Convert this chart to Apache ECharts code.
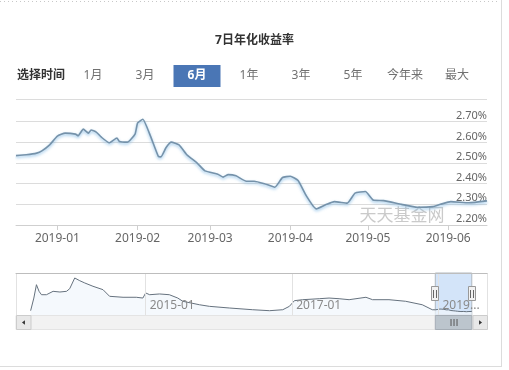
<!DOCTYPE html>
<html><head><meta charset="utf-8">
<script src="https://cdn.jsdelivr.net/npm/echarts@6/dist/echarts.min.js"></script>
<style>html,body{margin:0;padding:0;background:#fff}#c{width:509px;height:370px}</style>
</head><body><div id="c"></div>
<script>
// ---------- data ----------
const chartTitle = '7日年化收益率';
const rangeLabel = '选择时间';
const rangeButtons = ['1月', '3月', '6月', '1年', '3年', '5年', '今年来', '最大'];
const selectedRange = '6月';
const watermark = '天天基金网';

const mainRange = ['2018-12-16', '2019-06-16'];
const navRange = ['2013-03-25', '2019-08-31'];
const mainYMin = 2.2, mainYMax = 2.81, mainYStep = 0.1;
const navYMin = 1.85, navYMax = 7.42;

const windowDates = ['2018-12-16','2018-12-20','2018-12-24','2018-12-26','2018-12-29','2019-01-01','2019-01-04','2019-01-08','2019-01-09','2019-01-11','2019-01-13','2019-01-14','2019-01-16','2019-01-18','2019-01-21','2019-01-24','2019-01-25','2019-01-28','2019-01-31','2019-02-01','2019-02-03','2019-02-06','2019-02-09','2019-02-10','2019-02-12','2019-02-14','2019-02-17','2019-02-20','2019-02-24','2019-02-27','2019-03-04','2019-03-06','2019-03-08','2019-03-11','2019-03-15','2019-03-18','2019-03-22','2019-03-26','2019-03-29','2019-04-01','2019-04-04','2019-04-07','2019-04-11','2019-04-15','2019-04-18','2019-04-23','2019-04-26','2019-04-30','2019-05-03','2019-05-07','2019-05-14','2019-05-20','2019-05-26','2019-05-29','2019-06-02','2019-06-09','2019-06-16'];
const windowValues = [2.536,2.540,2.548,2.559,2.588,2.630,2.645,2.640,2.632,2.664,2.645,2.660,2.650,2.625,2.598,2.621,2.604,2.601,2.640,2.694,2.712,2.629,2.532,2.530,2.575,2.601,2.588,2.540,2.500,2.462,2.446,2.432,2.444,2.438,2.412,2.412,2.400,2.383,2.430,2.436,2.415,2.345,2.278,2.300,2.313,2.306,2.354,2.362,2.321,2.318,2.300,2.286,2.289,2.300,2.313,2.308,2.317];

const historyDates = ['2013-06-06','2013-06-22','2013-07-05','2013-07-18','2013-07-30','2013-08-24','2013-09-26','2013-10-30','2013-12-02','2013-12-18','2014-01-12','2014-02-06','2014-03-03','2014-04-13','2014-06-02','2014-07-05','2014-09-10','2014-11-15','2014-12-18','2015-01-01','2015-01-21','2015-03-11','2015-04-29','2015-06-10','2015-07-05','2015-09-26','2015-11-15','2016-02-22','2016-06-18','2016-09-10','2016-11-15','2016-12-18','2017-01-12','2017-02-22','2017-05-16','2017-07-04','2017-08-23','2017-10-12','2018-01-04','2018-02-06','2018-04-29','2018-07-21','2018-10-12','2018-12-01'];
const historyValues = [2.42,4.10,5.87,4.99,4.54,4.54,4.99,4.90,4.99,5.34,6.76,6.40,6.10,5.66,5.21,4.33,4.20,4.20,4.10,4.77,4.54,4.64,4.54,4.10,3.67,3.21,3.00,2.78,2.55,2.42,2.55,3.00,3.75,3.88,4.01,4.10,4.01,3.88,4.20,3.88,3.88,3.67,3.21,2.55];

// ---------- helpers ----------
const FONT = '"Noto Sans", "Noto Sans CJK SC", sans-serif';
const pad = n => (n < 10 ? '0' : '') + n;
function ts(s) { const p = s.split('-').map(Number); return new Date(p[0], p[1] - 1, p[2]).getTime(); }
function pairs(ds, vs) { return ds.map((d, i) => [ts(d), vs[i]]); }

const mainData = pairs(windowDates, windowValues);
const navData = pairs(historyDates.concat(windowDates), historyValues.concat(windowValues));

function monthLabel(v) {
  const d = new Date(v);
  return d.getDate() === 1 ? d.getFullYear() + '-' + pad(d.getMonth() + 1) : '';
}
function navLabel(v) {
  const d = new Date(v);
  if (d.getMonth() !== 0 || d.getDate() !== 1) return '';
  const s = d.getFullYear() + '-01';
  return v >= ts(mainRange[0]) ? s.slice(0, 4) + '...' : s;
}
function yLabel(v) { return v > mainYMax - 0.05 ? '' : v.toFixed(2) + '%'; }

const gridColor = '#dcdcdc';
const splitColors = [];
for (let v = mainYMin; v < mainYMax - 0.05; v += mainYStep) splitColors.push(gridColor);
splitColors.push('rgba(0,0,0,0)');
splitColors.push(gridColor);

const chart = echarts.init(document.getElementById('c'), null, { renderer: 'canvas' });

const option = {
  animation: false,
  backgroundColor: '#fff',
  textStyle: { fontFamily: FONT },
  title: {
    text: chartTitle, left: 'center', top: 30,
    textStyle: { fontSize: 12, fontWeight: 'bold', color: '#333', fontFamily: FONT }
  },
  grid: [
    { left: 16, right: 22, top: 99, bottom: 145 },
    { left: 16, right: 22, top: 273, height: 42 }
  ],
  xAxis: [
    {
      type: 'time', gridIndex: 0, min: ts(mainRange[0]), max: ts(mainRange[1]), splitNumber: 6,
      axisLine: { show: true, lineStyle: { color: '#cfcfcf' } },
      axisTick: { show: true, length: 5, lineStyle: { color: '#cfcfcf' } },
      splitLine: { show: false },
      axisLabel: { formatter: monthLabel, color: '#666', fontSize: 12, margin: 8, fontFamily: FONT, hideOverlap: false }
    },
    {
      type: 'time', gridIndex: 1, min: ts(navRange[0]), max: ts(navRange[1]), splitNumber: 3, z: 10,
      axisLine: { show: false }, axisTick: { show: false },
      splitLine: { show: true, lineStyle: { color: '#e2e2e2' } },
      axisLabel: {
        inside: true, align: 'left', verticalAlign: 'bottom', lineHeight: 12, margin: 3,
        padding: [0, 0, 0, 4], formatter: navLabel, color: '#8a8a8a', fontSize: 12, fontFamily: FONT
      }
    },
    {
      type: 'time', gridIndex: 1, position: 'top', min: ts(navRange[0]), max: ts(navRange[1]), z: 10,
      axisLine: { show: true, lineStyle: { color: '#bdbdbd' } },
      axisTick: { show: false }, axisLabel: { show: false }, splitLine: { show: false }
    }
  ],
  yAxis: [
    {
      type: 'value', gridIndex: 0, position: 'right', min: mainYMin, max: mainYMax, interval: mainYStep,
      axisLine: { show: false }, axisTick: { show: false },
      splitLine: { show: true, lineStyle: { color: splitColors } },
      axisLabel: {
        inside: true, margin: 0, verticalAlign: 'bottom', lineHeight: 12,
        formatter: yLabel, color: '#666', fontSize: 11, fontFamily: FONT
      }
    },
    { type: 'value', gridIndex: 1, min: navYMin, max: navYMax, show: false }
  ],
  series: [
    {
      type: 'line', xAxisIndex: 0, yAxisIndex: 0, data: mainData, showSymbol: false, smooth: 0.15,
      lineStyle: { color: '#7592aa', width: 1.6, shadowColor: 'rgba(110,175,225,0.75)', shadowBlur: 3, shadowOffsetY: 1.5 },
      z: 3
    },
    {
      type: 'line', xAxisIndex: 1, yAxisIndex: 1, data: navData, showSymbol: false,
      lineStyle: { color: '#66727e', width: 1 },
      areaStyle: { color: '#f1f6fc' },
      markArea: {
        silent: true,
        itemStyle: { color: 'rgba(192,217,246,0.7)', borderColor: '#b0b8c0', borderWidth: 1 },
        data: [[{ xAxis: ts(mainRange[0]) }, { xAxis: ts(mainRange[1]) }]]
      }
    }
  ]
};
chart.setOption(option);

// ---------- decorations (positions derived from the chart's scales) ----------
function buildGraphics() {
  const els = [];
  // panel frame
  els.push({ type: 'line', shape: { x1: 0, y1: 1.5, x2: 497, y2: 1.5 }, style: { stroke: '#c8c8c8', lineDash: [1, 3] } });
  els.push({ type: 'line', shape: { x1: 501.5, y1: 0, x2: 501.5, y2: 366 }, style: { stroke: '#dcdcdc' } });
  els.push({ type: 'line', shape: { x1: 0, y1: 366.5, x2: 502, y2: 366.5 }, style: { stroke: '#dcdcdc' } });

  // range selector
  els.push({ type: 'text', style: { x: 17, y: 76, text: rangeLabel, font: 'bold 12px ' + FONT, fill: '#333', verticalAlign: 'middle' } });
  rangeButtons.forEach((b, i) => {
    const cx = 93 + 52 * i;
    const sel = b === selectedRange;
    if (sel) els.push({ type: 'rect', shape: { x: cx - 23.5, y: 65, width: 47, height: 22 }, style: { fill: '#4a76b5' } });
    els.push({ type: 'text', style: { x: cx, y: 76, text: b, font: (sel ? 'bold ' : '') + '12px ' + FONT, fill: sel ? '#fff' : '#707070', align: 'center', verticalAlign: 'middle' } });
  });

  // watermark
  els.push({ type: 'text', z: 1, style: { x: 402, y: 215, text: watermark, font: '17px "Noto Sans CJK SC", sans-serif', fill: '#cacaca', align: 'center', verticalAlign: 'middle' } });

  // navigator / scrollbar
  const px = v => chart.convertToPixel({ xAxisIndex: 1 }, v);
  const py = v => chart.convertToPixel({ yAxisIndex: 1 }, v);
  const navL = px(ts(navRange[0])), navR = px(ts(navRange[1]));
  const navT = py(navYMax), navB = py(navYMin);
  const selL = px(ts(mainRange[0])), selR = px(ts(mainRange[1]));
  const sbT = navB, sbH = 14, sbMid = sbT + sbH / 2, btnW = 14.5;

  els.push({ type: 'rect', z: 50, shape: { x: navL, y: sbT + 0.5, width: navR - navL, height: sbH }, style: { fill: '#f2f2f2', stroke: '#e4e4e4' } });
  // buttons
  [[navL, -1], [navR - btnW, 1]].forEach(([bx, dir]) => {
    els.push({ type: 'rect', z: 51, shape: { x: bx + 0.5, y: sbT + 0.5, width: btnW, height: sbH }, style: { fill: '#e8e8e8', stroke: '#cccccc' } });
    const c = bx + btnW / 2 + 0.5;
    els.push({ type: 'polygon', z: 52, shape: { points: [[c + dir * 1.8, sbMid + 0.5], [c - dir * 1.2, sbMid - 1.7], [c - dir * 1.2, sbMid + 2.7]] }, style: { fill: '#333' } });
  });
  // thumb
  els.push({ type: 'rect', z: 53, shape: { x: selL, y: sbT + 0.5, width: selR - selL, height: sbH }, style: { fill: '#bcc5cd', stroke: '#a5adb5' } });
  const tc = (selL + selR) / 2;
  [-3, 0, 3].forEach(o => {
    els.push({ type: 'line', z: 54, shape: { x1: tc + o + 0.5, y1: sbMid - 3, x2: tc + o + 0.5, y2: sbMid + 4 }, style: { stroke: '#555', lineWidth: 1 } });
  });
  // handles
  const hc = (navT + navB) / 2;
  [selL, selR].forEach(hx => {
    els.push({ type: 'rect', z: 55, shape: { x: Math.round(hx) - 3.5, y: Math.round(hc) - 7.5, width: 7, height: 14 }, style: { fill: '#f2f2f2', stroke: '#999' } });
    [-1, 1].forEach(o => {
      els.push({ type: 'line', z: 56, shape: { x1: Math.round(hx) + o * 1.5, y1: hc - 4, x2: Math.round(hx) + o * 1.5, y2: hc + 4 }, style: { stroke: '#666', lineWidth: 1 } });
    });
  });
  return els;
}
chart.setOption({ graphic: { elements: buildGraphics() } });
</script>
</body></html>
